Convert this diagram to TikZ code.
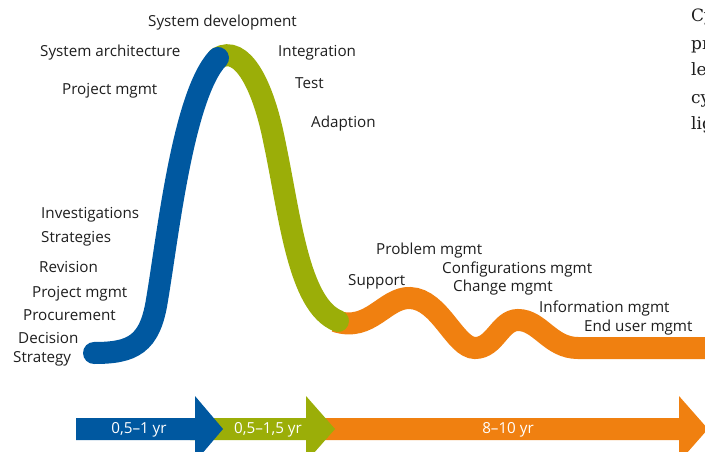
\documentclass[tikz,border=0pt]{standalone}
\usepackage{fontspec}
\setmainfont{Open Sans}
\newfontfamily\serifslab{DejaVu Serif}
\definecolor{cblue}{RGB}{0,88,160}
\definecolor{cgreen}{RGB}{155,174,8}
\definecolor{corange}{RGB}{240,128,16}
\definecolor{ctext}{RGB}{30,30,30}
\tikzset{
  lbl/.style={anchor=west, inner sep=0pt, text=ctext, font=\fontsize{15.2}{18}\selectfont},
  arrlbl/.style={inner sep=0pt, text=white, font=\fontsize{15.2}{18}\selectfont},
  para/.style={anchor=base west, inner sep=0pt, text=ctext, font=\serifslab\fontsize{17}{20}\selectfont},
  phase/.style={line width=22pt, line cap=round},
}
\begin{document}
\begin{tikzpicture}[x=1pt,y=-1pt]
\useasboundingbox (0,0) rectangle (705,452);
\clip (0,0) rectangle (705,452);
% curve
\draw[phase, color=corange, line cap=butt] (335,321) .. controls (370,333) and (385,297) .. (410,298)
  .. controls (440,299) and (455,348) .. (475,348)
  .. controls (495,348) and (500,320) .. (518,320)
  .. controls (540,320) and (550,348) .. (578,348) -- (710,348);
\draw[phase, color=cgreen] (218,58) .. controls (242,44) and (263,85) .. (274,140)
  .. controls (290,215) and (298,305) .. (338,321);
\draw[phase, color=cblue] (94,353) .. controls (132,353) and (150,345) .. (157,300)
  .. controls (168,235) and (183,95) .. (218,58);
% bottom arrows
\fill[corange] (320,418) -- (679,418) -- (679,396) -- (708,429) -- (679,462) -- (679,440) -- (320,440) -- cycle;
\fill[cgreen] (190,418) -- (306,418) -- (306,396) -- (335,429) -- (306,462) -- (306,440) -- (190,440) -- cycle;
\fill[cblue] (76,418) -- (195,418) -- (195,396) -- (223,429) -- (195,462) -- (195,440) -- (76,440) -- cycle;
\node[arrlbl] (a1) at (139,430) {0,5–1 yr};
\node[arrlbl] (a2) at (268,430) {0,5–1,5 yr};
\node[arrlbl] (a3) at (508,430) {8–10 yr};
% labels
\node[lbl] (sd) at (148,23) {System development};
\node[lbl] (sa) at (40,53) {System architecture};
\node[lbl] (pm1) at (62,91) {Project mgmt};
\node[lbl] (in) at (278,53) {Integration};
\node[lbl] (te) at (295,83) {Test};
\node[lbl] (ad) at (311,124) {Adaption};
\node[lbl] (iv) at (41,215) {Investigations};
\node[lbl] (st) at (41,239) {Strategies};
\node[lbl] (re) at (39,267) {Revision};
\node[lbl] (pm2) at (32,294) {Project mgmt};
\node[lbl] (pr) at (23,315) {Procurement};
\node[lbl] (de) at (18,338) {Decision};
\node[lbl] (sy) at (13,359) {Strategy};
\node[lbl] (pb) at (376,251) {Problem mgmt};
\node[lbl] (su) at (348,282) {Support};
\node[lbl] (cf) at (442,270) {Configurations mgmt};
\node[lbl] (ch) at (453,288) {Change mgmt};
\node[lbl] (im) at (539,309) {Information mgmt};
\node[lbl] (eu) at (584,328) {End user mgmt};
% cropped paragraph
\node[para] (p1) at (691,22) {Cy};
\node[para] (p2) at (691,50) {pr};
\node[para] (p3) at (691,76) {le};
\node[para] (p4) at (691,103) {cy};
\node[para] (p5) at (691,130) {lig};
\end{tikzpicture}
\end{document}
